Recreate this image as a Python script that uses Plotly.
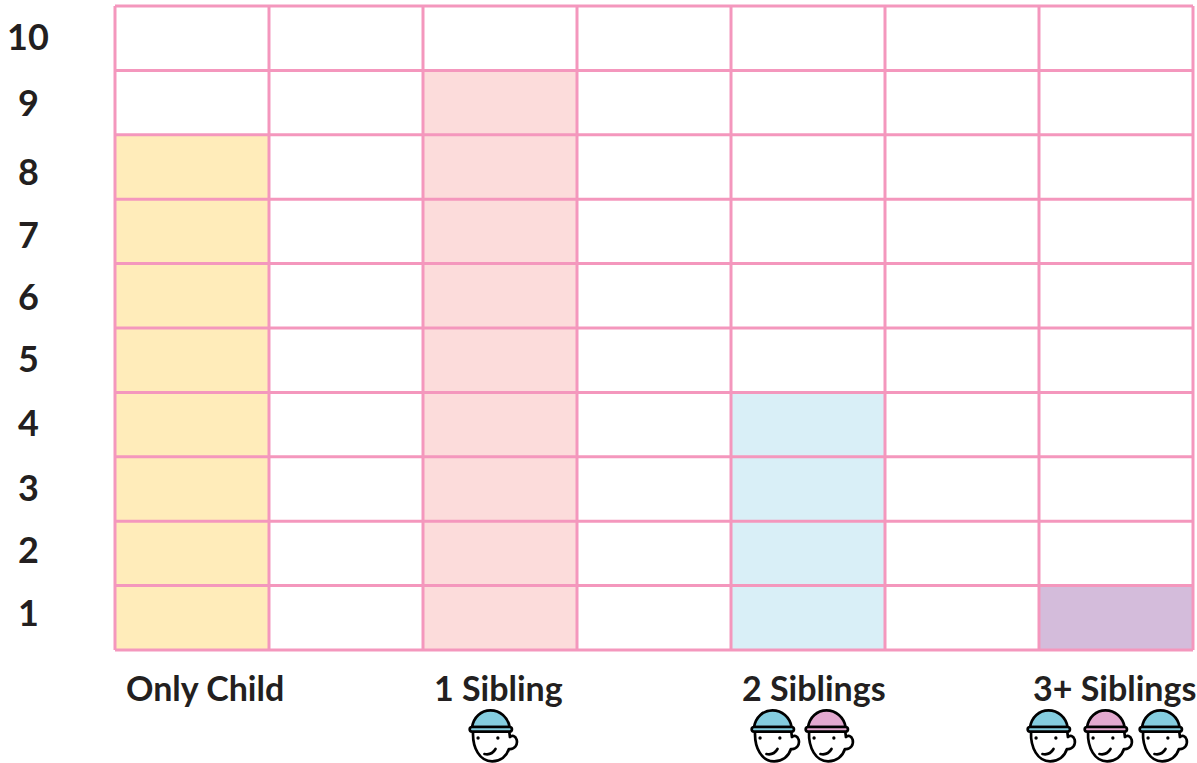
import base64
import plotly.graph_objects as go

categories = ["Only Child", "1 Sibling", "2 Siblings", "3+ Siblings"]
children = [8, 9, 4, 1]
bar_centers = [0.5, 2.5, 4.5, 6.5]
bar_colors = ["#FFECBA", "#FCDCDB", "#D9EFF7", "#D4BCDB"]
y_labels = list(range(1, 11))
y_label_shift = [6, 4, 2, 3, 2, 0, -3, -4, 1, 2]
label_centers = [0.584, 2.49, 4.54, 6.49]
hat_groups = [[], ["blue"], ["blue", "pink"], ["blue", "pink", "blue"]]
head_lefts = [[], [467], [749, 803], [1025, 1082, 1137]]

GRID = "#F497BD"
INK = "#231F20"
FONT = "Lato"
W, H = 1197, 763
L, R, T, B = 115, 1193, 6, 650
PAD = 3  # room around the plot so the outer border is drawn at full width
HAT = {"blue": "#84CDDF", "pink": "#E3A9CF"}


def head_svg(color):
    svg = f'''<svg xmlns="http://www.w3.org/2000/svg" viewBox="80 145 158 168" width="158" height="168">
<g fill="none" stroke="#000" stroke-width="8" stroke-linecap="round" stroke-linejoin="round">
<path d="M98 216 C96 265 118 305 155 305 C180 305 198 290 205 268 C222 270 232 255 228 240 C224 228 214 226 208 232 L206 216 Z" fill="#fff"/>
<path d="M95 202 C100 172 122 152 150 152 C178 152 202 172 207 202 Z" fill="{HAT[color]}"/>
<rect x="88" y="202" width="126" height="14" rx="7" fill="{HAT[color]}"/>
<path d="M132 283 C146 286 158 280 165 268"/>
</g>
<circle cx="113" cy="235" r="5"/><circle cx="172" cy="235" r="5"/>
</svg>'''
    return "data:image/svg+xml;base64," + base64.b64encode(svg.encode()).decode()


fig = go.Figure(
    go.Bar(
        x=bar_centers,
        y=children,
        width=1,
        marker=dict(color=bar_colors, line_width=0),
        showlegend=False,
        hoverinfo="skip",
    )
)

shapes = []
for i in range(8):
    shapes.append(dict(type="line", xref="x", yref="y", x0=i, x1=i, y0=0, y1=10,
                       line=dict(color=GRID, width=3), layer="above"))
for j in range(11):
    shapes.append(dict(type="line", xref="x", yref="y", x0=0, x1=7, y0=j, y1=j,
                       line=dict(color=GRID, width=3), layer="above"))

annotations = []
for n, shift in zip(y_labels, y_label_shift):
    annotations.append(dict(
        x=(28 - (L - PAD)) / (R - L + 2 * PAD), xref="paper", xanchor="center",
        y=n - 0.5, yref="y", yanchor="middle", yshift=shift,
        text=f"<b>{n}</b>", showarrow=False,
        font=dict(family=FONT, size=36, color=INK)))
for c, xc in zip(categories, label_centers):
    annotations.append(dict(
        x=xc, xref="x", xanchor="center",
        y=0, yref="y", yanchor="middle", yshift=-37,
        text=f"<b>{c}</b>", showarrow=False,
        font=dict(family=FONT, size=34, color=INK)))

pw, ph = R - L + 2 * PAD, B - T + 2 * PAD
images = []
for colors, lefts in zip(hat_groups, head_lefts):
    for col, left in zip(colors, lefts):
        images.append(dict(
            source=head_svg(col), xref="paper", yref="paper",
            x=(left - (L - PAD)) / pw, y=1 - (708 - (T - PAD)) / ph,
            sizex=53 / pw, sizey=56 / ph,
            xanchor="left", yanchor="top", sizing="stretch", layer="above"))

fig.update_layout(
    width=W, height=H, autosize=False,
    margin=dict(l=L - PAD, r=W - R - PAD, t=T - PAD, b=H - B - PAD, pad=0),
    paper_bgcolor="white", plot_bgcolor="white",
    bargap=0,
    xaxis=dict(range=[-PAD / 154, 7 + PAD / 154], showticklabels=False, showgrid=False, zeroline=False, ticks=""),
    yaxis=dict(range=[-PAD / 64.4, 10 + PAD / 64.4], showticklabels=False, showgrid=False, zeroline=False, ticks=""),
    shapes=shapes, annotations=annotations, images=images,
)

fig.write_html("out.html", post_script="document.body.style.margin='0';", config={"displayModeBar": False})
